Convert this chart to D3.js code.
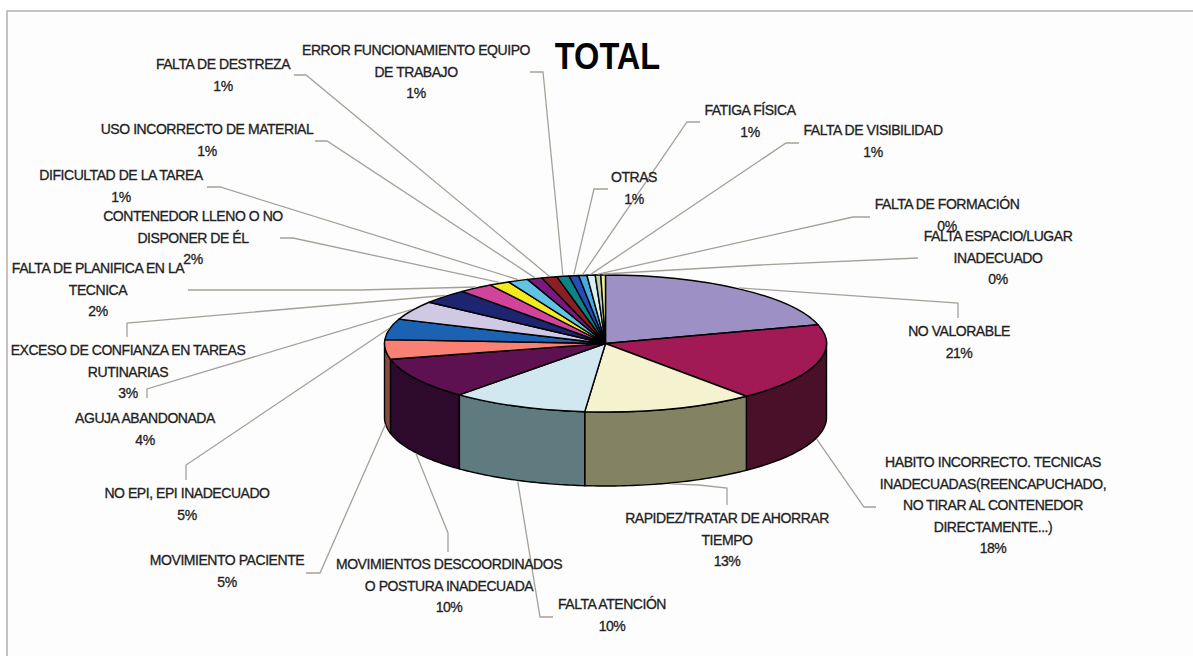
<!DOCTYPE html>
<html lang="es">
<head>
<meta charset="utf-8">
<title>TOTAL</title>
<script src="https://cdn.jsdelivr.net/npm/d3@7"></script>
<style>
  html, body { margin: 0; padding: 0; background: #fff; }
  svg { display: block; }
  text { font-family: "Liberation Sans", Arial, sans-serif; }
</style>
</head>
<body>
<svg id="chart" width="1193" height="656"></svg>
<script>
// Accident causes and their share of the total, clockwise from twelve o'clock.
const categories = [
  "NO VALORABLE",
  "HABITO INCORRECTO. TECNICAS|INADECUADAS(REENCAPUCHADO,|NO TIRAR AL CONTENEDOR|DIRECTAMENTE...)",
  "RAPIDEZ/TRATAR DE AHORRAR|TIEMPO",
  "FALTA ATENCIÓN",
  "MOVIMIENTOS DESCOORDINADOS|O POSTURA INADECUADA",
  "MOVIMIENTO PACIENTE",
  "NO EPI, EPI INADECUADO",
  "AGUJA ABANDONADA",
  "EXCESO DE CONFIANZA EN TAREAS|RUTINARIAS",
  "FALTA DE PLANIFICA EN LA|TECNICA",
  "CONTENEDOR LLENO O NO|DISPONER DE ÉL",
  "DIFICULTAD DE LA TAREA",
  "USO INCORRECTO DE MATERIAL",
  "FALTA DE DESTREZA",
  "ERROR FUNCIONAMIENTO EQUIPO|DE TRABAJO",
  "OTRAS",
  "FATIGA FÍSICA",
  "FALTA DE VISIBILIDAD",
  "FALTA DE FORMACIÓN",
  "FALTA ESPACIO/LUGAR|INADECUADO"
];
const shares = [20.6, 18.4, 12.5, 10, 9.8, 4.6, 4.9, 4.49, 3.49, 2.49, 1.5, 1.49, 1.1, 1.1, 0.9, 0.7, 0.6, 0.6, 0.4, 0.34];
const sliceColors = [
  "#9c90c4", "#a21a55", "#f5f3cf", "#d2e8f1", "#5e1150",
  "#f98073", "#1b62b3", "#d0c9e4", "#1d2470", "#d2449c",
  "#f4ea1d", "#60c3e4", "#7a1a7c", "#8e1e25", "#0c8387",
  "#2250b8", "#4aa8e0", "#d7eef2", "#bdd3b0", "#ecec9c"
];
// Wall shades for the slices that reach the front of the disc.
const wallColors = ["#4d4560", "#4a1029", "#838364", "#5f7b80", "#2d0a2c", "#8a4a40"];

// Label anchor (centre x, first line centre y) and leader route for each slice.
const labelAt = [
  [959, 331], [993, 462], [727, 518], [612, 604], [449, 564],
  [227, 560], [187, 493], [145, 418], [128, 350], [98, 268],
  [193, 216], [121, 175], [207, 129], [223, 64], [416, 50],
  [634, 177], [750, 110], [873, 130], [947, 204], [998, 236]
];
const leaderRoute = [
  [[958, 318], [958, 303]],
  [[876, 507], [864, 507]],
  [[727, 505], [727, 488], [699, 485]],
  [[553, 617], [540, 617]],
  [[448, 552], [448, 533]],
  [[306, 573], [320, 573]],
  [[186, 480], [186, 465]],
  [[147, 398], [147, 389]],
  [[127, 337], [127, 323]],
  [[188, 290], [360, 290]],
  [[280, 238], [293, 238]],
  [[207, 187], [220, 187]],
  [[315, 141], [327, 141]],
  [[294, 75], [306, 75]],
  [[530, 72], [543, 72]],
  [[608, 189], [594, 189]],
  [[700, 122], [687, 122]],
  [[799, 143], [786, 143]],
  [[870, 217], [853, 217]],
  [[918, 258], [760, 265]]
];

const pie3d = { cx: 605.5, cy: 343.5, rx: 221, ry: 68.5, depth: 74 };
const lineStep = 21.6;

const svg = d3.select("#chart");

// Page background and the chart-area frame, open past the page's right and bottom edges.
svg.append("rect").attr("width", 1193).attr("height", 656).attr("fill", "#ffffff");
svg.append("rect")
  .attr("x", 7).attr("y", 11).attr("width", 1300).attr("height", 800)
  .attr("fill", "#fdfdfd").attr("stroke", "#b9b5ae").attr("stroke-width", 1.6);

const slices = d3.pie().sort(null).value(d => d)(shares);

// Angle measured clockwise from the top, projected onto the tilted disc.
const rimX = a => pie3d.cx + pie3d.rx * Math.sin(a);
const rimY = a => pie3d.cy - pie3d.ry * Math.cos(a);
const midAngle = s => (s.startAngle + s.endAngle) / 2;

// Outer wall: only the arc between 3 and 9 o'clock faces the viewer.
const wall = d3.area()
  .x(rimX)
  .y0(rimY)
  .y1(a => rimY(a) + pie3d.depth);

const wallGroup = svg.append("g");
slices.forEach((s, i) => {
  const from = Math.max(s.startAngle, Math.PI / 2);
  const to = Math.min(s.endAngle, Math.PI * 1.5);
  if (to <= from) return;
  const steps = d3.range(0, 41).map(k => from + (to - from) * k / 40);
  wallGroup.append("path")
    .attr("d", wall(steps))
    .attr("fill", wallColors[i])
    .attr("stroke", "#000")
    .attr("stroke-width", 1.4)
    .attr("stroke-linejoin", "round");
});

// Top face: a regular arc generator squashed vertically into an ellipse.
const arc = d3.arc().innerRadius(0).outerRadius(pie3d.rx);
svg.append("g")
  .attr("transform", `translate(${pie3d.cx},${pie3d.cy}) scale(1,${pie3d.ry / pie3d.rx})`)
  .selectAll("path")
  .data(slices)
  .join("path")
  .attr("d", arc)
  .attr("fill", (d, i) => sliceColors[i])
  .attr("stroke", "#000")
  .attr("stroke-width", 1.4)
  .attr("stroke-linejoin", "round")
  .attr("vector-effect", "non-scaling-stroke");

// Leader lines run from each label to the slice rim, or to the lower edge of the wall.
const leaderEnd = s => {
  const a = midAngle(s);
  const front = a > Math.PI / 2 && a < Math.PI * 1.5;
  return [rimX(a), rimY(a) + (front ? pie3d.depth + 1 : -1)];
};
const leaderPath = d3.line();
svg.append("g")
  .selectAll("path")
  .data(slices)
  .join("path")
  .attr("d", (s, i) => leaderPath([...leaderRoute[i], leaderEnd(s)]))
  .attr("fill", "none")
  .attr("stroke", "#a5a199")
  .attr("stroke-width", 1.3);

// Category name followed by its rounded percentage, one row per line.
const labels = svg.append("g")
  .attr("text-anchor", "middle")
  .attr("font-size", 14)
  .attr("letter-spacing", "-0.45")
  .attr("fill", "#222")
  .attr("stroke", "#222")
  .attr("stroke-width", 0.3);

categories.forEach((name, i) => {
  const rows = [...name.split("|"), `${Math.round(shares[i])}%`];
  const [x, y] = labelAt[i];
  rows.forEach((row, r) => {
    labels.append("text")
      .attr("x", x)
      .attr("y", y + r * lineStep)
      .attr("dy", "0.36em")
      .text(row);
  });
});

// Title, condensed horizontally around its centre.
svg.append("text")
  .attr("transform", "translate(607.5,69) scale(0.88,1)")
  .attr("text-anchor", "middle")
  .attr("font-size", 37)
  .attr("font-weight", "bold")
  .attr("fill", "#050505")
  .text("TOTAL");
</script>
</body>
</html>
